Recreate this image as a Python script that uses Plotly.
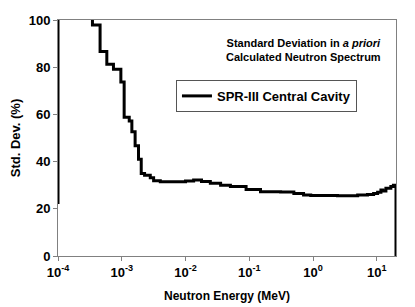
import plotly.graph_objects as go

# Energy (MeV) bin starts and standard deviation (%) values (step curve)
energy = [1e-4, 1e-4, 3.47e-4, 4.57e-4, 5.83e-4, 7.41e-4, 9.68e-4, 1.09e-3,
          1.31e-3, 1.44e-3, 1.62e-3, 1.83e-3, 2.02e-3, 2.28e-3, 2.80e-3,
          3.16e-3, 4.02e-3, 5.77e-3, 1.0e-2, 1.34e-2, 1.78e-2, 2.45e-2,
          3.55e-2, 5.06e-2, 8.91e-2, 0.15, 0.31, 0.50, 0.71, 0.92, 2.41,
          5.01, 7.14, 8.91, 10.3, 11.6, 12.4, 13.9, 16.6, 18.2, 20.0]
std_dev = [22.0, 130.0, 97.9, 86.6, 81.2, 79.1, 73.7, 58.8,
           57.2, 52.7, 46.7, 41.0, 35.0, 34.2, 33.2,
           31.9, 31.5, 31.5, 31.8, 32.2, 31.6, 30.8,
           30.0, 29.4, 28.2, 27.2, 27.1, 26.5, 25.9, 25.6, 25.5,
           25.8, 26.1, 26.5, 27.0, 28.0, 27.5, 28.7, 29.4, 30.0, 0.0]

x_tick_vals = [1e-4, 1e-3, 1e-2, 1e-1, 1e0, 1e1]
x_tick_text = ["10<sup>-4</sup>", "10<sup>-3</sup>", "10<sup>-2</sup>",
               "10<sup>-1</sup>", "10<sup>0</sup>", "10<sup>1</sup>"]
y_tick_vals = [0, 20, 40, 60, 80, 100]

font_family = "Liberation Sans, Arial, sans-serif"

fig = go.Figure()
fig.add_trace(go.Scatter(
    x=energy, y=std_dev, mode="lines", line_shape="hv",
    line=dict(color="black", width=3),
    name="<b>SPR-III Central Cavity</b>",
))

fig.update_layout(
    width=407, height=299,
    margin=dict(l=50, r=19, t=12, b=51),
    paper_bgcolor="white", plot_bgcolor="white",
    font=dict(family=font_family, size=11, color="black"),
    showlegend=True,
    legend=dict(
        x=0.349, y=0.746, xanchor="left", yanchor="top",
        bgcolor="white", bordercolor="#555555", borderwidth=1,
        font=dict(size=13, family=font_family),
        itemwidth=30, tracegroupgap=0,
    ),
    annotations=[dict(
        text="<b>Standard Deviation in <i>a priori</i></b><br><b>Calculated Neutron Spectrum</b>",
        x=0.725, y=0.875, xref="paper", yref="paper",
        xanchor="center", yanchor="middle", showarrow=False,
        font=dict(size=11, family=font_family),
    )],
)

fig.update_xaxes(
    type="log", range=[-4, 1.30103],
    tickvals=x_tick_vals, ticktext=["<b>%s</b>" % t for t in x_tick_text],
    ticks="outside", ticklen=4, tickcolor="#808080",
    showline=True, linecolor="#808080", linewidth=1, mirror=True,
    showgrid=False, zeroline=False, automargin=False,
    title=dict(text="<b>Neutron Energy (MeV)</b>", standoff=13,
               font=dict(size=12)),
    tickfont=dict(size=13),
)
fig.update_yaxes(
    range=[0, 100], tickvals=y_tick_vals,
    ticktext=["<b>%d</b>" % v for v in y_tick_vals],
    ticks="outside", ticklen=4, tickcolor="#808080",
    showline=True, linecolor="#808080", linewidth=1, mirror=True,
    showgrid=False, zeroline=False, automargin=False,
    title=dict(text="<b>Std. Dev. (%)</b>", standoff=6,
               font=dict(size=13)),
    tickfont=dict(size=13),
)

fig.write_html("out.html")
